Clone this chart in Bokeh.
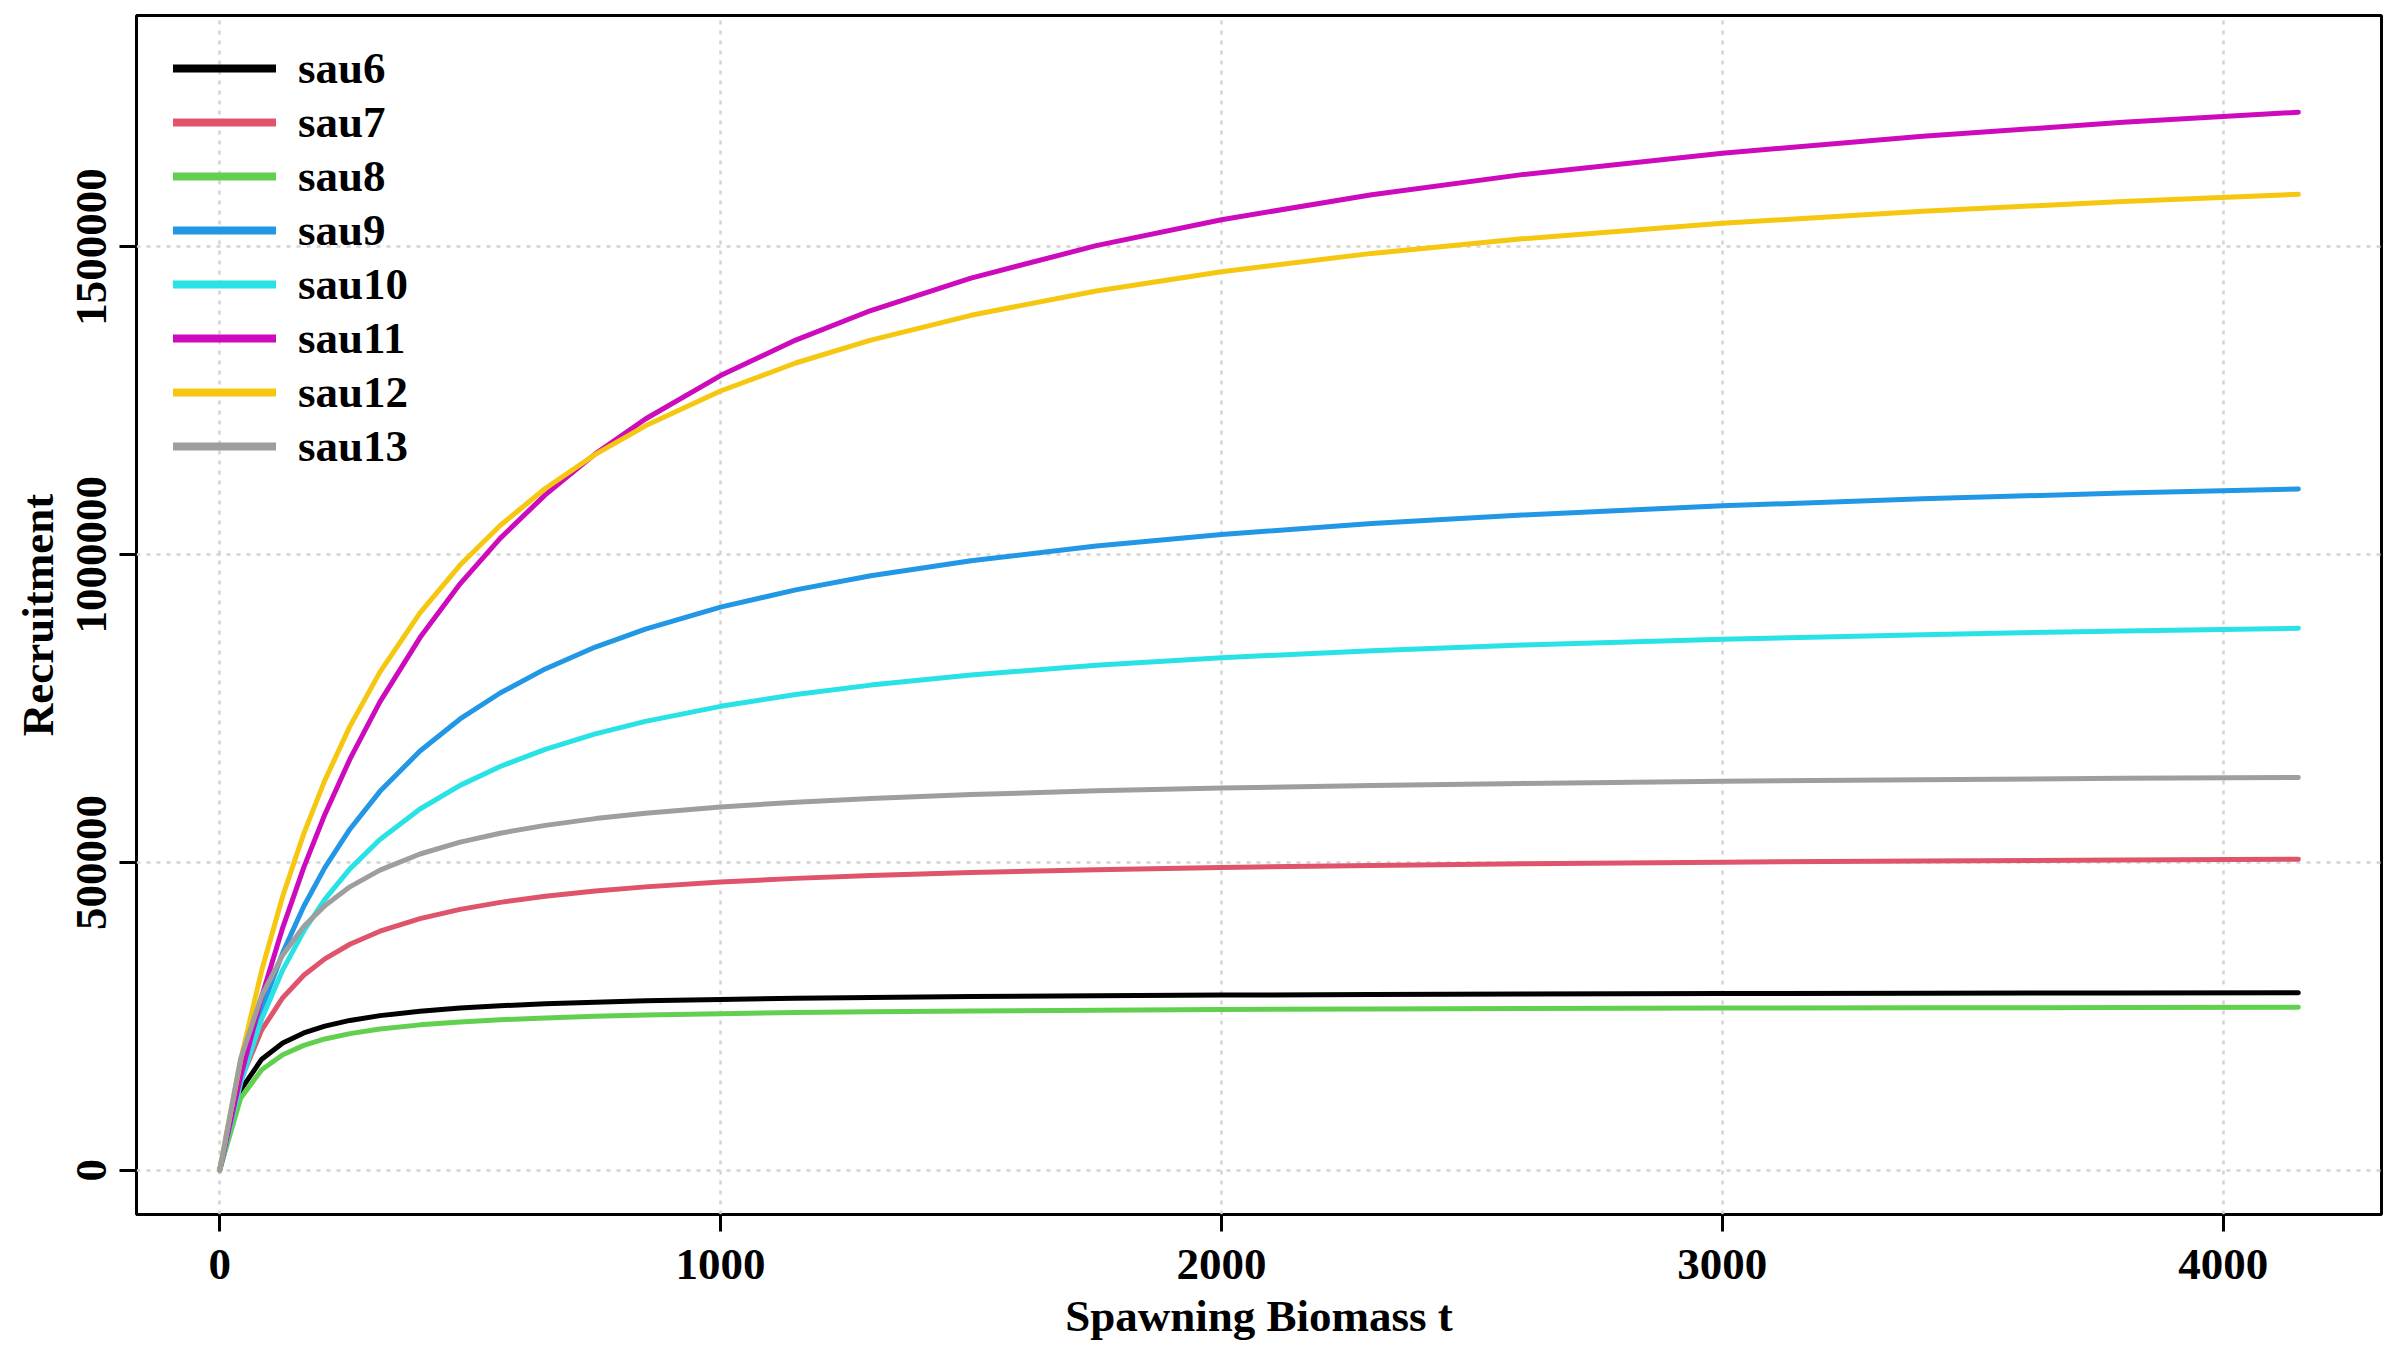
from bokeh.plotting import figure
from bokeh.models import Range1d, FixedTicker, BasicTickFormatter, Legend, LegendItem
from bokeh.embed import file_html
from bokeh.resources import INLINE

# spawning biomass (t) and recruitment per SAU
biomass = [0, 42, 84, 126, 168, 210, 260, 320, 400, 480, 560, 650, 750, 850,
           1000, 1150, 1300, 1500, 1750, 2000, 2300, 2600, 3000, 3400, 3800,
           4150]

sau6 = [0, 130400, 180300, 206600, 222900, 234000, 243300, 251100, 258300,
        263400, 267100, 270300, 273000, 275100, 277500, 279300, 280700,
        282100, 283500, 284500, 285400, 286200, 286900, 287500, 288000,
        288300]
sau7 = [0, 146100, 227900, 280200, 316600, 343300, 367100, 388300, 408800,
        423700, 435100, 445000, 453500, 460300, 468100, 474100, 478800,
        483700, 488300, 491900, 495200, 497700, 500400, 502400, 504000,
        505200]
sau8 = [0, 117300, 163100, 187600, 202800, 213200, 221900, 229300, 236100,
        240900, 244400, 247400, 250000, 252000, 254300, 256000, 257300,
        258700, 260000, 261000, 261900, 262600, 263300, 263800, 264200,
        264600]
sau9 = [0, 147100, 261800, 353600, 428900, 491600, 554000, 615500, 681000,
        733100, 775300, 814400, 849900, 879200, 914700, 942800, 965700,
        990200, 1014100, 1032900, 1050500, 1064500, 1079300, 1090900,
        1100100, 1106900]
sau10 = [0, 141500, 245700, 325500, 388700, 439900, 489500, 537200, 586800,
         625200, 655900, 683800, 708800, 729200, 753600, 772800, 788100,
         804500, 820300, 832600, 844100, 853200, 862700, 870100, 876100,
         880400]
sau11 = [0, 152200, 282100, 394200, 492000, 578000, 667700, 760800, 865300,
         952600, 1026500, 1097200, 1163800, 1220400, 1291000, 1348700,
         1396700, 1449400, 1502100, 1544200, 1584800, 1617500, 1652200,
         1679900, 1702400, 1718900]
sau12 = [0, 179400, 324900, 445400, 546800, 633300, 721000, 809200, 905300,
         983100, 1047400, 1107500, 1163000, 1209300, 1265900, 1311400,
         1348600, 1388900, 1428500, 1459800, 1489500, 1513200, 1538300,
         1558000, 1573900, 1585500]
sau13 = [0, 181000, 283600, 349700, 395800, 429800, 460300, 487400, 513700,
         532900, 547500, 560200, 571200, 580000, 590100, 597800, 603900,
         610300, 616300, 620900, 625100, 628400, 631800, 634500, 636600,
         638100]

names = ["sau6", "sau7", "sau8", "sau9", "sau10", "sau11", "sau12", "sau13"]
series = [sau6, sau7, sau8, sau9, sau10, sau11, sau12, sau13]
colors = ["#000000", "#DF536B", "#61D04F", "#2297E6", "#28E2E5", "#CD0BBC",
          "#F5C710", "#9E9E9E"]

x_ticks = [0, 1000, 2000, 3000, 4000]
y_ticks = [0, 500000, 1000000, 1500000]

FONT = "Liberation Serif"

p = figure(width=2396, height=1348, output_backend="svg", toolbar_location=None,
           x_range=Range1d(-166, 4316), y_range=Range1d(-72000, 1876000),
           min_border_left=136, min_border_right=15, min_border_top=15,
           min_border_bottom=134)

p.outline_line_color = "black"
p.outline_line_width = 3

for ax in (p.xaxis, p.yaxis):
    ax.axis_line_color = None
    ax.major_tick_line_color = "black"
    ax.major_tick_line_width = 3
    ax.major_tick_in = 0
    ax.major_tick_out = 17
    ax.minor_tick_line_color = None
    ax.major_label_text_font = FONT
    ax.major_label_text_font_style = "bold"
    ax.major_label_text_font_size = "45px"
    ax.major_label_text_color = "black"
    ax.axis_label_text_font = FONT
    ax.axis_label_text_font_style = "bold"
    ax.axis_label_text_font_size = "45px"
    ax.axis_label_text_color = "black"
    ax.formatter = BasicTickFormatter(use_scientific=False)

p.xaxis.ticker = FixedTicker(ticks=x_ticks)
p.yaxis.ticker = FixedTicker(ticks=y_ticks)
p.xaxis.major_label_standoff = 18
p.xaxis.axis_label_standoff = 9
p.yaxis.major_label_standoff = 13
p.yaxis.axis_label_standoff = 12
p.yaxis.major_label_orientation = "vertical"
p.xaxis.axis_label = "Spawning Biomass t"
p.yaxis.axis_label = "Recruitment"

for g in (p.xgrid, p.ygrid):
    g.grid_line_color = "#D3D3D3"
    g.grid_line_width = 2.5
    g.grid_line_dash = "4 6"
p.xgrid.ticker = FixedTicker(ticks=x_ticks)
p.ygrid.ticker = FixedTicker(ticks=y_ticks)

nan = float("nan")
items = []
for name, vals, col in zip(names, series, colors):
    p.line(biomass, vals, line_color=col, line_width=5,
           line_cap="round", line_join="round")
    # thicker key line for the legend only (no visible data)
    key = p.line([nan], [nan], line_color=col, line_width=8, line_cap="round")
    items.append(LegendItem(label=name, renderers=[key]))

legend = Legend(items=items, location=(37, 742), margin=0, padding=0,
                spacing=2, glyph_width=103, glyph_height=50,
                label_standoff=22, label_height=50,
                label_text_font=FONT, label_text_font_style="bold",
                label_text_font_size="45px", label_text_color="black",
                border_line_color=None, background_fill_alpha=0)
p.add_layout(legend)

open("out.html", "w").write(file_html(p, INLINE))
